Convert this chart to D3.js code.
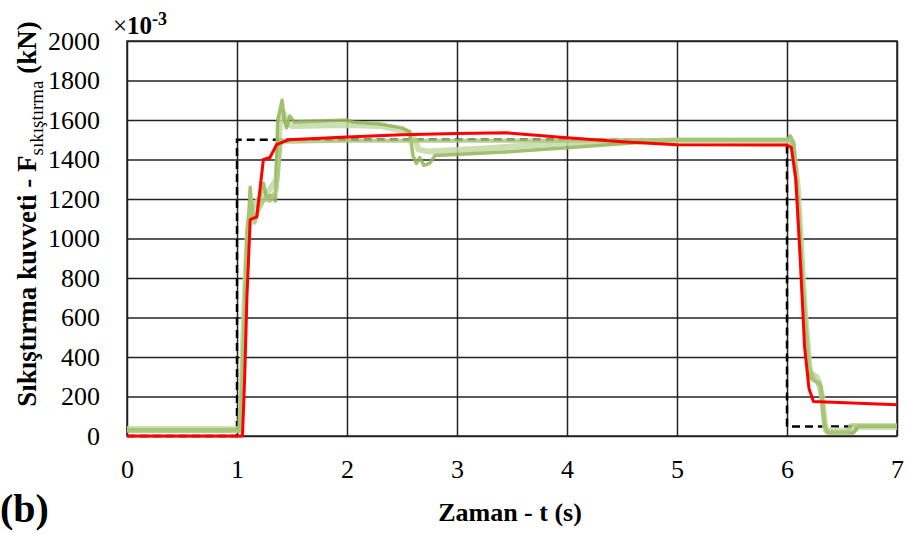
<!DOCTYPE html>
<html>
<head>
<meta charset="utf-8">
<script src="https://cdn.jsdelivr.net/npm/d3@7"></script>
<style>
  body { margin: 0; background: #fff; }
</style>
</head>
<body>
<div id="chart"></div>
<script>
// Chart data (time in s, force in 10^-3 kN)
const xTicks = [0, 1, 2, 3, 4, 5, 6, 7];
const yTicks = [0, 200, 400, 600, 800, 1000, 1200, 1400, 1600, 1800, 2000];

// reference (dashed)
const refT = [0, 1.0, 1.0, 6.0, 6.0, 7];
const refF = [0, 0, 1500, 1500, 48, 48];

// model output (red)
const redT = [0, 1.05, 1.07, 1.09, 1.12, 1.18, 1.24, 1.30, 1.36, 1.47, 2.0, 2.5, 3.0, 3.45, 4.0, 4.5, 5.0, 6.0, 6.04, 6.08, 6.12, 6.16, 6.2, 6.24, 7];
const redF = [0, 0, 300, 700, 1095, 1110, 1400, 1410, 1475, 1500, 1514, 1525, 1532, 1535, 1510, 1490, 1475, 1473, 1460, 1300, 900, 450, 240, 175, 158];

// measured runs (green)
const gAT = [0, 1.02, 1.05, 1.09, 1.11, 1.12, 1.14, 1.18, 1.22, 1.24, 1.27, 1.30, 1.35, 1.37, 1.41, 1.43, 1.45, 1.48, 1.52, 2.0, 2.05, 2.3, 2.5, 2.57, 2.6, 2.63, 2.66, 2.7, 2.75, 2.8, 3.5, 4.0, 4.5, 5.0, 6.0, 6.03, 6.06, 6.1, 6.15, 6.19, 6.22, 6.28, 6.31, 6.34, 6.37, 6.6, 6.65, 7];
const gAF = [30, 30, 300, 1000, 1150, 1260, 1100, 1120, 1250, 1280, 1200, 1220, 1190, 1600, 1700, 1600, 1560, 1620, 1590, 1600, 1590, 1580, 1560, 1540, 1420, 1380, 1410, 1370, 1380, 1420, 1440, 1460, 1480, 1500, 1500, 1520, 1480, 1200, 700, 330, 290, 270, 250, 60, 15, 15, 50, 50];

const gBT = [0, 1.03, 1.06, 1.1, 1.13, 1.16, 1.2, 1.25, 1.3, 1.36, 1.40, 1.45, 2, 3, 4, 5, 6, 6.04, 6.08, 6.14, 6.2, 6.25, 6.3, 6.33, 6.36, 6.55, 6.58, 7];
const gBF = [25, 25, 500, 1050, 1200, 1080, 1150, 1200, 1190, 1250, 1500, 1490, 1495, 1495, 1495, 1500, 1500, 1500, 1350, 800, 350, 280, 270, 100, 20, 20, 55, 55];

const gCT = [0, 1.03, 1.07, 1.1, 1.13, 1.2, 1.3, 1.36, 1.39, 1.42, 1.46, 1.5, 2, 2.3, 2.55, 2.62, 2.65, 2.75, 3.2, 4.2, 5, 6, 6.05, 6.1, 6.16, 6.21, 6.27, 6.32, 6.35, 6.6, 6.65, 7];
const gCF = [35, 35, 700, 1050, 1150, 1200, 1250, 1300, 1580, 1640, 1580, 1570, 1575, 1570, 1540, 1500, 1450, 1440, 1455, 1490, 1495, 1495, 1490, 1250, 650, 320, 300, 200, 30, 25, 45, 45];

// Dimensions
const width = 907;
const height = 534;
const plotLeft = 127, plotRight = 897, plotTop = 41, plotBottom = 436;
const serif = "Liberation Serif, Times New Roman, serif";

const svg = d3.select("#chart")
  .append("svg")
  .attr("width", width)
  .attr("height", height)
  .attr("font-family", serif);

const x = d3.scaleLinear().domain([0, 7]).range([plotLeft, plotRight]);
const y = d3.scaleLinear().domain([0, 2000]).range([plotBottom, plotTop]);

// grid
svg.append("g")
  .attr("transform", "translate(0," + plotBottom + ")")
  .call(d3.axisBottom(x).tickValues(xTicks).tickSize(-(plotBottom - plotTop)).tickFormat(""))
  .call(g => g.select(".domain").remove())
  .call(g => g.selectAll("line").attr("stroke", "#222").attr("stroke-width", 1.5));

svg.append("g")
  .attr("transform", "translate(" + plotLeft + ",0)")
  .call(d3.axisLeft(y).tickValues(yTicks).tickSize(-(plotRight - plotLeft)).tickFormat(""))
  .call(g => g.select(".domain").remove())
  .call(g => g.selectAll("line").attr("stroke", "#222").attr("stroke-width", 1.5));

svg.append("rect")
  .attr("x", plotLeft).attr("y", plotTop)
  .attr("width", plotRight - plotLeft).attr("height", plotBottom - plotTop)
  .attr("fill", "none").attr("stroke", "#222").attr("stroke-width", 1.5);

// tick labels
svg.append("g")
  .attr("transform", "translate(0," + plotBottom + ")")
  .call(d3.axisBottom(x).tickValues(xTicks).tickSize(0).tickPadding(24).tickFormat(d3.format("d")))
  .attr("font-family", serif)
  .attr("font-size", 26)
  .call(g => g.select(".domain").remove())
  .call(g => g.selectAll("text").attr("fill", "#000"));

svg.append("g")
  .attr("transform", "translate(" + plotLeft + ",0)")
  .call(d3.axisLeft(y).tickValues(yTicks).tickSize(0).tickPadding(27).tickFormat(d3.format("d")))
  .attr("font-family", serif)
  .attr("font-size", 26)
  .call(g => g.select(".domain").remove())
  .call(g => g.selectAll("text").attr("fill", "#000"));

// lines
function zip(ts, fs) {
  return ts.map((t, i) => [t, fs[i]]);
}
const line = d3.line()
  .x(d => x(d[0]))
  .y(d => y(d[1]));

svg.append("path")
  .datum(zip(refT, refF))
  .attr("d", line)
  .attr("fill", "none")
  .attr("stroke", "#000")
  .attr("stroke-width", 2.5)
  .attr("stroke-dasharray", "8,5");

const greens = [
  { t: gCT, f: gCF, color: "#c2d9a4", w: 6 },
  { t: gAT, f: gAF, color: "#93b458", w: 3.5 },
  { t: gBT, f: gBF, color: "#a9c77a", w: 4 }
];
greens.forEach(s => {
  svg.append("path")
    .datum(zip(s.t, s.f))
    .attr("d", line)
    .attr("fill", "none")
    .attr("stroke", s.color)
    .attr("stroke-width", s.w)
    .attr("stroke-opacity", 0.85)
    .attr("stroke-linejoin", "round");
});

svg.append("path")
  .datum(zip(redT, redF))
  .attr("d", line)
  .attr("fill", "none")
  .attr("stroke", "#ff0000")
  .attr("stroke-width", 3)
  .attr("stroke-linejoin", "round");

// scale factor label
const sf = svg.append("text")
  .attr("x", 113).attr("y", 34)
  .attr("font-size", 25);
sf.append("tspan").text("×");
sf.append("tspan").attr("font-weight", "bold").text("10");
sf.append("tspan").attr("font-weight", "bold").attr("dy", -9).attr("font-size", 18).text("-3");

// axis titles
svg.append("text")
  .attr("x", (plotLeft + plotRight) / 2 - 2).attr("y", 521)
  .attr("text-anchor", "middle")
  .attr("font-weight", "bold")
  .attr("font-size", 26)
  .text("Zaman - t (s)");

const yl = svg.append("text")
  .attr("transform", "translate(36,214) rotate(-90)")
  .attr("text-anchor", "middle")
  .attr("font-weight", "bold")
  .attr("font-size", 27);
yl.append("tspan").text("Sıkıştırma kuvveti - F");
yl.append("tspan").attr("font-weight", "normal").attr("dy", 7).attr("font-size", 19).text("sıkıştırma");
yl.append("tspan").attr("dy", -7).text(" (kN)");

svg.append("text")
  .attr("x", 0).attr("y", 522)
  .attr("font-weight", "bold")
  .attr("font-size", 40)
  .text("(b)");
</script>
</body>
</html>
